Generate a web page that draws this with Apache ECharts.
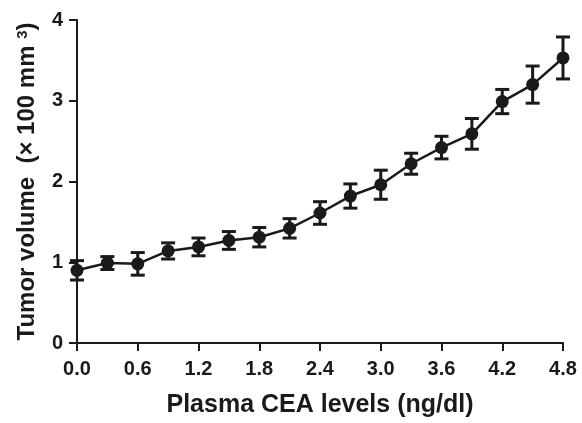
<!DOCTYPE html>
<html>
<head>
<meta charset="utf-8">
<script src="https://cdn.jsdelivr.net/npm/echarts@6/dist/echarts.min.js"></script>
<style>
  html, body { margin: 0; padding: 0; background: #fff; }
  #main { width: 582px; height: 423px; }
</style>
</head>
<body>
<div id="main"></div>
<script>
// CEA levels (x) and tumour volume (x 100 mm3) with error
const ceaLevels = [0, 0.3, 0.6, 0.9, 1.2, 1.5, 1.8, 2.1, 2.4, 2.7, 3.0, 3.3, 3.6, 3.9, 4.2, 4.5, 4.8];
const volumeMean = [0.90, 0.99, 0.98, 1.14, 1.19, 1.27, 1.31, 1.42, 1.61, 1.82, 1.96, 2.22, 2.42, 2.59, 2.99, 3.20, 3.53];
const volumeErr = [0.12, 0.08, 0.14, 0.10, 0.11, 0.11, 0.12, 0.12, 0.14, 0.15, 0.18, 0.13, 0.14, 0.19, 0.15, 0.23, 0.26];

const ink = '#1a1a1a';
const font = 'Liberation Sans, Arial, sans-serif';

const chart = echarts.init(document.getElementById('main'));

const lineData = ceaLevels.map((x, i) => [x, volumeMean[i]]);
const errData = ceaLevels.map((x, i) => [x, volumeMean[i] - volumeErr[i], volumeMean[i] + volumeErr[i]]);

chart.setOption({
  animation: false,
  grid: { left: 77, right: 19, top: 20, bottom: 77 },
  xAxis: {
    type: 'value',
    min: 0,
    max: 4.8,
    interval: 0.6,
    name: 'Plasma CEA levels (ng/dl)',
    nameLocation: 'middle',
    nameGap: 50,
    nameTextStyle: { color: ink, fontFamily: font, fontWeight: 'bold', fontSize: 25 },
    axisLine: { lineStyle: { color: ink, width: 2 } },
    axisTick: { show: true, inside: false, length: 8, lineStyle: { color: ink, width: 2 } },
    axisLabel: { color: ink, fontFamily: font, fontWeight: 'bold', fontSize: 20, margin: 16, formatter: v => v.toFixed(1) },
    splitLine: { show: false }
  },
  yAxis: {
    type: 'value',
    min: 0,
    max: 4,
    interval: 1,
    name: '{a|Tumor volume  (× 100 mm }{s|3}{a|)}',
    nameLocation: 'middle',
    nameGap: 37,
    nameRotate: 90,
    nameTextStyle: {
      rich: {
        a: { color: ink, fontFamily: font, fontWeight: 'bold', fontSize: 24 },
        s: { color: ink, fontFamily: font, fontWeight: 'bold', fontSize: 15, verticalAlign: 'top', padding: [0, 0, 10, 0] }
      }
    },
    axisLine: { show: true, lineStyle: { color: ink, width: 2 } },
    axisTick: { show: true, inside: false, length: 8, lineStyle: { color: ink, width: 2 } },
    axisLabel: { color: ink, fontFamily: font, fontWeight: 'bold', fontSize: 20, margin: 14 },
    splitLine: { show: false }
  },
  series: [
    {
      type: 'custom',
      data: errData,
      z: 3,
      renderItem: (params, api) => {
        const lo = api.coord([api.value(0), api.value(1)]);
        const hi = api.coord([api.value(0), api.value(2)]);
        const half = 7;
        const style = { stroke: ink, lineWidth: 3 };
        return {
          type: 'group',
          children: [
            { type: 'line', shape: { x1: hi[0], y1: hi[1], x2: lo[0], y2: lo[1] }, style },
            { type: 'line', shape: { x1: hi[0] - half, y1: hi[1], x2: hi[0] + half, y2: hi[1] }, style },
            { type: 'line', shape: { x1: lo[0] - half, y1: lo[1], x2: lo[0] + half, y2: lo[1] }, style }
          ]
        };
      }
    },
    {
      type: 'line',
      data: lineData,
      z: 4,
      symbol: 'circle',
      symbolSize: 13,
      lineStyle: { color: ink, width: 2.5 },
      itemStyle: { color: ink }
    }
  ]
});
</script>
</body>
</html>
